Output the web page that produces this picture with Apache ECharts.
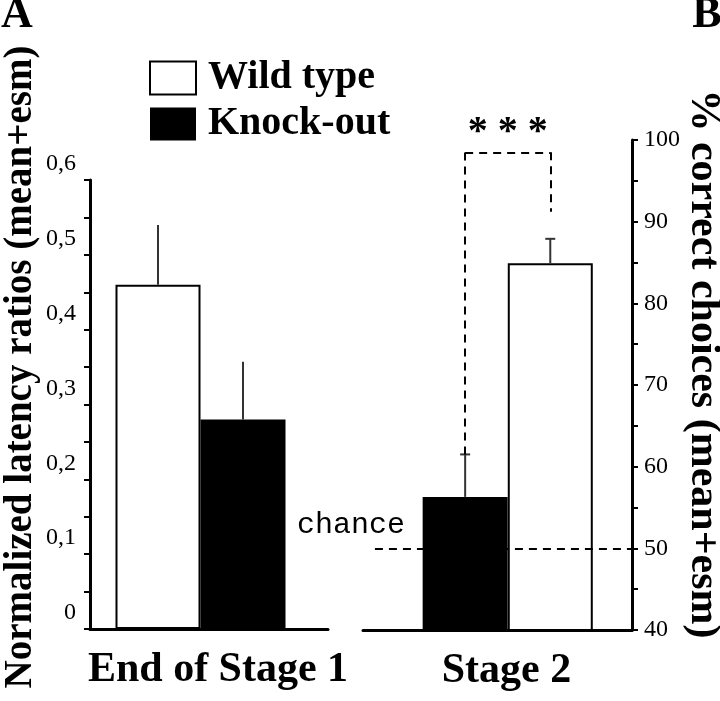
<!DOCTYPE html>
<html>
<head>
<meta charset="utf-8">
<title>latency ratios and correct choices</title>
<script src="https://cdn.jsdelivr.net/npm/echarts@6/dist/echarts.min.js"></script>
<style>
  html, body { margin: 0; padding: 0; background: #fff; }
  #main { width: 720px; height: 701px; }
</style>
</head>
<body>
<div id="main"></div>
<script>
const groupNames = ['Wild type', 'Knock-out']
const stageNames = ['End of Stage 1', 'Stage 2']

// panel A : normalized latency ratios (x slot, mean, esm) - wild type, knock-out
const stage1Pos = [1, 2]
const stage1Mean = [0.46, 0.28]
const stage1Err = [0.08, 0.077]

// panel B : % correct choices - wild type, knock-out (knock-out drawn left)
const stage2Pos = [2, 1]
const stage2Mean = [84.9, 56.3]
const stage2Err = [3.0, 5.2]

const chanceLevel = 50
const bracketTop = 98.5
const bracketRightEnd = 91.2

const serif = 'Liberation Serif'
const black = '#000'

function fmtComma (v) {
  return String(+Number(v).toFixed(1)).replace('.', ',')
}

function barSeries (name, xi, x, y, dark) {
  return {
    name: name,
    type: 'bar',
    xAxisIndex: xi,
    yAxisIndex: xi,
    barWidth: 85,
    barGap: '-100%',
    data: [[x, y]],
    itemStyle: dark
      ? { color: black, borderColor: black, borderWidth: 0 }
      : { color: '#fff', borderColor: black, borderWidth: 2 },
    emphasis: { disabled: true }
  }
}

function errorSeries (xi, pos, mean, err, cap) {
  return {
    type: 'custom',
    xAxisIndex: xi,
    yAxisIndex: xi,
    silent: true,
    z: 3,
    encode: { x: 0, y: [1, 2] },
    data: pos.map((p, i) => [p, mean[i], mean[i] + err[i]]),
    renderItem: (params, api) => {
      const lo = api.coord([api.value(0), api.value(1)])
      const hi = api.coord([api.value(0), api.value(2)])
      const st = { stroke: '#333', lineWidth: 2 }
      const children = [{ type: 'line', shape: { x1: lo[0], y1: lo[1], x2: hi[0], y2: hi[1] }, style: st }]
      if (cap) {
        children.push({ type: 'line', shape: { x1: hi[0] - cap, y1: hi[1], x2: hi[0] + cap, y2: hi[1] }, style: st })
      }
      return { type: 'group', children: children }
    }
  }
}

function yAxisBase (gi, min, max, step) {
  return {
    type: 'value',
    gridIndex: gi,
    min: min,
    max: max,
    interval: step,
    axisLine: { show: true, onZero: false, lineStyle: { color: black, width: 3 } },
    axisTick: { show: true, length: 6, lineStyle: { color: black, width: 2 } },
    minorTick: { show: true, splitNumber: 2, length: 6, lineStyle: { color: black, width: 2 } },
    splitLine: { show: false },
    minorSplitLine: { show: false }
  }
}

function xAxisBase (gi, min, max, name) {
  return {
    type: 'value',
    gridIndex: gi,
    min: min,
    max: max,
    axisLine: { show: true, onZero: false, lineStyle: { color: black, width: 3 } },
    axisTick: { show: false },
    axisLabel: { show: false },
    splitLine: { show: false },
    name: name,
    nameLocation: 'middle',
    nameGap: 20,
    nameTextStyle: { fontFamily: serif, fontWeight: 'bold', fontSize: 42, color: black, padding: [0, 0, 0, 18] }
  }
}

const koTop = stage2Mean[1] + stage2Err[1]
const dashed = { type: [8, 6], color: black, width: 2 }
const starLabel = { show: true, position: 'insideMiddleTop', distance: 0, formatter: '* * *', fontFamily: serif, fontWeight: 'bold', fontSize: 40, color: black }

const yLeft = yAxisBase(0, 0, 0.6, 0.1)
yLeft.axisLabel = { fontFamily: serif, fontSize: 24, color: black, margin: 14, verticalAlign: 'bottom', padding: [0, 0, 4, 0], formatter: fmtComma }
const yRight = yAxisBase(1, 40, 100, 10)
yRight.position = 'right'
yRight.axisLabel = { fontFamily: serif, fontSize: 24, color: black, margin: 12, verticalAlign: 'middle', padding: [0, 0, 8, 0] }

const koRight = barSeries(groupNames[1], 1, stage2Pos[1], stage2Mean[1], true)
koRight.markLine = {
  silent: true,
  symbol: ['none', 'none'],
  lineStyle: dashed,
  label: { show: false },
  emphasis: { disabled: true },
  data: [
    [{ coord: [stage2Pos[1], koTop] }, { coord: [stage2Pos[1], bracketTop] }],
    [
      { coord: [stage2Pos[1], bracketTop], label: starLabel },
      { coord: [stage2Pos[0], bracketTop], label: starLabel }
    ],
    [{ coord: [stage2Pos[0], bracketTop] }, { coord: [stage2Pos[0], bracketRightEnd] }],
    [{ coord: [-0.06, chanceLevel] }, { coord: [2.96, chanceLevel] }]
  ]
}

const option = {
  backgroundColor: '#fff',
  animation: false,
  grid: [
    { left: 90, top: 180, width: 238, height: 449, outerBoundsMode: 'none' },
    { left: 363, top: 140, width: 269, height: 490, outerBoundsMode: 'none' }
  ],
  legend: {
    data: groupNames,
    orient: 'vertical',
    left: 144,
    top: 53,
    icon: 'rect',
    itemWidth: 46,
    itemHeight: 33,
    itemGap: 6,
    selectedMode: false,
    textStyle: { fontFamily: serif, fontWeight: 'bold', fontSize: 40, color: black, lineHeight: 36, padding: [0, 0, 0, 7] }
  },
  xAxis: [
    xAxisBase(0, 0.2, 3.0, stageNames[0]),
    xAxisBase(1, -0.2, 2.96, stageNames[1])
  ],
  yAxis: [yLeft, yRight],
  series: [
    barSeries(groupNames[0], 0, stage1Pos[0], stage1Mean[0], false),
    barSeries(groupNames[1], 0, stage1Pos[1], stage1Mean[1], true),
    barSeries(groupNames[0], 1, stage2Pos[0], stage2Mean[0], false),
    koRight,
    errorSeries(0, stage1Pos, stage1Mean, stage1Err, 0),
    errorSeries(1, stage2Pos, stage2Mean, stage2Err, 5)
  ],
  graphic: [
    { type: 'text', x: 17, y: 16, style: { text: 'A', font: 'bold 44px "Liberation Serif"', fill: black, align: 'center', verticalAlign: 'middle' } },
    { type: 'text', x: 707, y: 16, style: { text: 'B', font: 'bold 44px "Liberation Serif"', fill: black, align: 'center', verticalAlign: 'middle' } },
    { type: 'text', x: 21, y: 367, rotation: Math.PI / 2, style: { text: 'Normalized latency ratios (mean+esm)', font: 'bold 39px "Liberation Serif"', fill: black, align: 'center', verticalAlign: 'middle' } },
    { type: 'text', x: 703, y: 364, rotation: -Math.PI / 2, style: { text: '% correct choices (mean+esm)', font: 'bold 42px "Liberation Serif"', fill: black, align: 'center', verticalAlign: 'middle' } },
    { type: 'text', x: 297, y: 525, style: { text: 'chance', font: '30px "Liberation Mono"', fill: black, align: 'left', verticalAlign: 'middle' } }
  ]
}

const chart = echarts.init(document.getElementById('main'))
chart.setOption(option)
</script>
</body>
</html>
